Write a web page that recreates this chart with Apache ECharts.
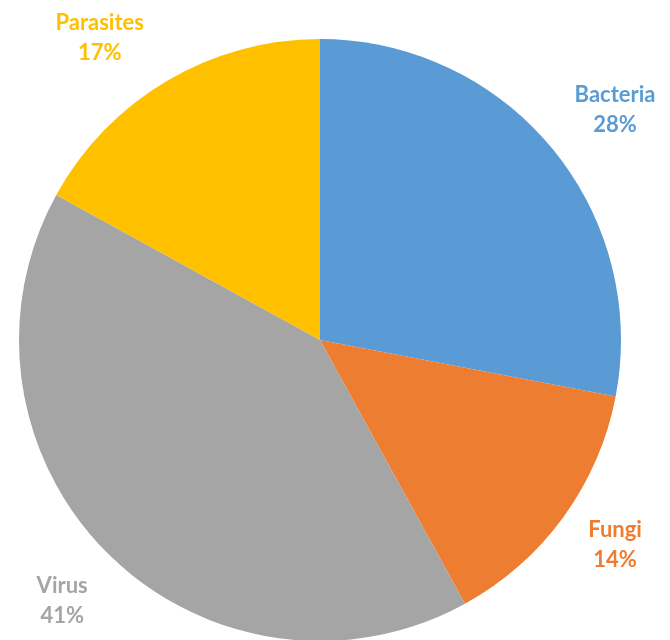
<!DOCTYPE html>
<html>
<head>
<meta charset="utf-8">
<script src="https://cdn.jsdelivr.net/npm/echarts@6/dist/echarts.min.js"></script>
<style>html,body{margin:0;padding:0;background:#fff;}#c{width:670px;height:640px;}</style>
</head>
<body>
<div id="c"></div>
<script>
var categories = ['Bacteria', 'Fungi', 'Virus', 'Parasites'];
var values = [28, 14, 41, 17];
var colors = ['#5B9BD5', '#ED7D31', '#A5A5A5', '#FFC000'];

// label nudges (layout only), relative to the slice mid-angle anchor
var labelNudge = [[13, 3], [-1, -10], [1, 2], [-34, 13]];

var CX = 320, CY = 340, R = 301, LR = 366;
var total = values.reduce(function (a, b) { return a + b; }, 0);
var mids = [];
var acc = 0;
values.forEach(function (v) { mids.push((acc + v / 2) / total * 2 * Math.PI); acc += v; });

var labelBase = {
  show: true,
  position: 'outside',
  formatter: function (p) { return p.name + '\n' + p.value + '%'; },
  fontFamily: 'Lato',
  fontWeight: 'bold',
  fontSize: 22,
  lineHeight: 30,
  align: 'center',
  overflow: 'none'
};

var chart = echarts.init(document.getElementById('c'), null, {renderer: 'canvas'});
chart.setOption({
  animation: false,
  series: [{
    type: 'pie',
    center: [CX, CY],
    radius: R,
    startAngle: 90,
    clockwise: true,
    data: categories.map(function (c, i) {
      return {name: c, value: values[i], itemStyle: {color: colors[i]},
        label: Object.assign({}, labelBase, {color: colors[i]})};
    }),
    label: labelBase,
    labelLine: {show: false},
    labelLayout: function (p) {
      var i = p.dataIndex, a = mids[i];
      return {
        x: CX + LR * Math.sin(a) + labelNudge[i][0],
        y: CY - LR * Math.cos(a) + labelNudge[i][1],
        align: 'center',
        verticalAlign: 'middle'
      };
    },
    emphasis: {disabled: true}
  }]
});
</script>
</body>
</html>
